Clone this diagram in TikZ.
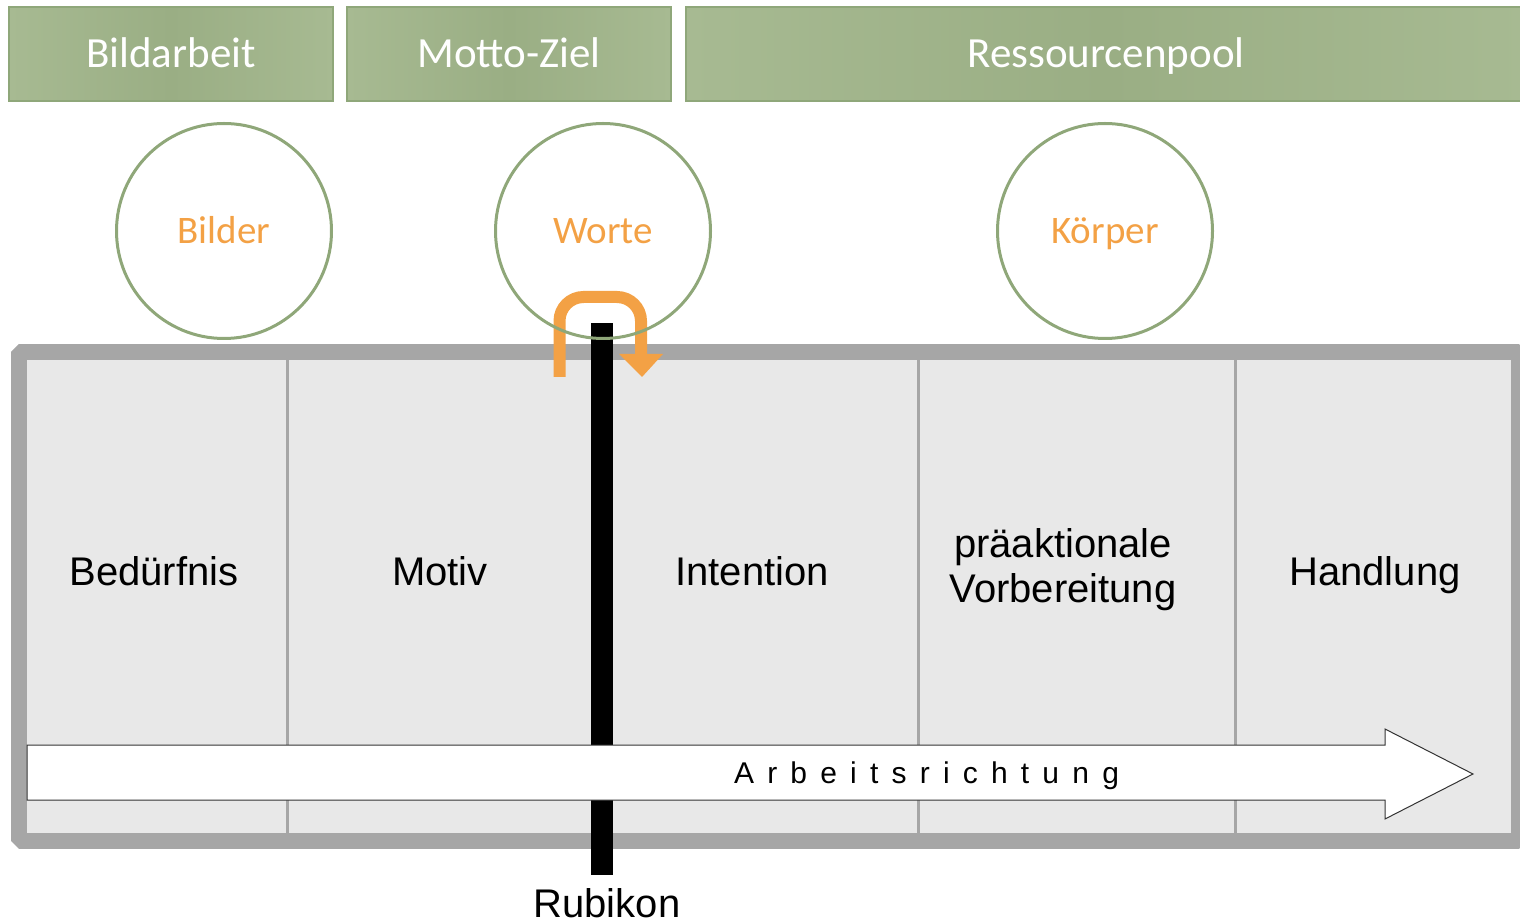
\documentclass[tikz,border=0pt]{standalone}
\usepackage{fontspec}
\setmainfont{Liberation Sans}
\newfontfamily\calibri{Carlito}
\definecolor{moodgreen}{HTML}{9AAE84}
\definecolor{moodlight}{HTML}{A7BA92}
\definecolor{moodedge}{HTML}{8FA77A}
\definecolor{ringgreen}{HTML}{8FA779}
\definecolor{tagorange}{HTML}{F3A145}
\definecolor{framegray}{HTML}{A6A6A6}
\definecolor{cellgray}{HTML}{E8E8E8}

\begin{document}
\begin{tikzpicture}[x=0.5pt,y=-0.5pt,
	toolbox/.style={draw=moodedge,line width=1pt,left color=moodlight,right color=moodlight,middle color=moodgreen,
		text=white,font=\calibri\fontsize{21.5}{26}\selectfont,text height=18pt,text depth=4.3pt,
		minimum height=47pt,inner sep=0pt},
	channel/.style={circle,draw=ringgreen,line width=1.5pt,minimum size=107.5pt,inner sep=0pt,
		text=tagorange,font=\calibri\fontsize{19.5}{23}\selectfont,text height=16.5pt,text depth=4pt},
	phase/.style={font=\fontsize{20}{22.5}\selectfont,align=center}]
	\useasboundingbox (0,0) rectangle (1520,924);
	% top row
	\node[toolbox,minimum width=162pt] (bildarbeit) at (171,54) {Bildarbeit};
	\node[toolbox,minimum width=162pt] (mottoziel) at (509,54) {Motto-Ziel};
	\node[toolbox,minimum width=420pt] (pool) at (1106,54) {Ressourcenpool};
	% frame and phases
	\draw[framegray,fill=cellgray,line width=8pt,line join=bevel] (18.5,352.5) rectangle (1519,841);
	\foreach \x in {287,918,1235}
		\draw[framegray,line width=1.5pt] (\x,360) -- (\x,833);
	\node[phase,anchor=base] (beduerfnis) at (154,586) {Bedürfnis};
	\node[phase,anchor=base] (motiv) at (440,586) {Motiv};
	\node[phase,anchor=base] (intention) at (752,586) {Intention};
	\node[phase] (vorbereitung) at (1063,570) {präaktionale\\Vorbereitung};
	\node[phase,anchor=base] (handlung) at (1375,586) {Handlung};
	% Rubikon
	\node[fill=black,minimum width=11pt,minimum height=276pt,inner sep=0pt] (rubikon) at (602,599) {};
	\node[phase,anchor=base] (rubikonlabel) at (607,917) {Rubikon};
	% direction arrow
	\draw[fill=white,draw=black!80,line width=0.5pt] (27,745) -- (1385,745) -- (1385,729) -- (1473,774)
		-- (1385,819) -- (1385,800) -- (27,800) -- cycle;
	\node[anchor=base,font=\fontsize{15}{18}\selectfont] (richtung) at (926.5,783)
		{\spaceskip=0.44em A r b e i t s r i c h t u n g};
	% u-turn over the Rubikon
	\draw[tagorange,line width=6pt,rounded corners=12pt] (559.5,377) -- (559.5,297) -- (641,297) -- (641,356);
	\fill[tagorange] (619,354) -- (663,354) -- (642,377) -- cycle;
	% circles
	\node[channel] (bilder) at (224,231) {Bilder};
	\node[channel] (worte) at (603,231) {Worte};
	\node[channel] (koerper) at (1105,231) {Körper};
\end{tikzpicture}
\end{document}
